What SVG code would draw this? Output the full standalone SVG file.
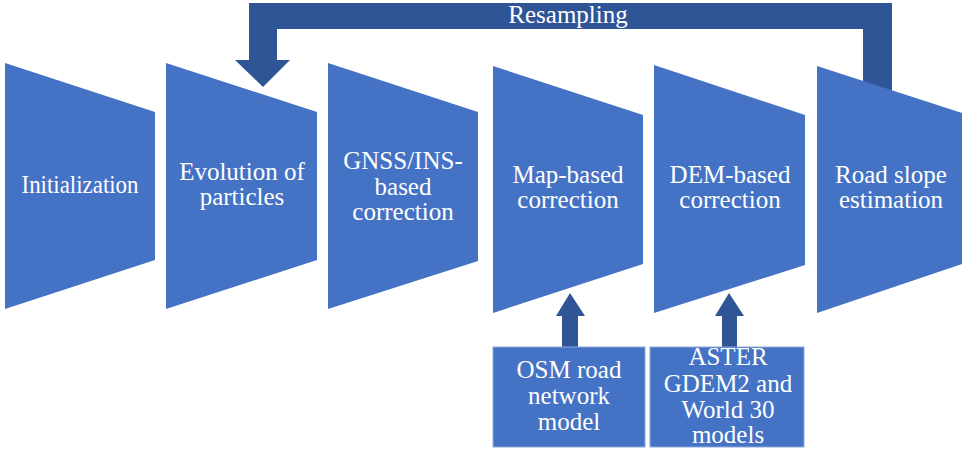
<svg xmlns="http://www.w3.org/2000/svg" width="962" height="450" viewBox="0 0 962 450">
<style>
.stage{fill:#4472C4;}
.dark{fill:#2F5597;}
.box{fill:#4472C4;stroke:#8FAADC;stroke-width:1;}
text{font-family:"Liberation Serif","Times New Roman",serif;font-size:25px;fill:#FFFFFF;text-anchor:middle;}
</style>
<rect width="962" height="450" fill="#FFFFFF"/>
<g id="connectors">
<path id="resampling" class="dark" d="M249,3 H892 V100 H863 V29 H277 V60 H290 L263,87 L235,60 H249 Z"/>
<text x="568" y="23">Resampling</text>
<path id="arrow-osm" class="dark" d="M562,347 V316 H556 L570,293 L585,316 H578 V347 Z"/>
<path id="arrow-aster" class="dark" d="M722,347 V316 H715 L729,293 L744,316 H737 V347 Z"/>
</g>
<g id="initialization">
<polygon class="stage" points="5,63 155,112 155,260 5,309"/>
<text x="80" y="193" textLength="117" lengthAdjust="spacingAndGlyphs">Initialization</text>
</g>
<g id="evolution">
<polygon class="stage" points="166,63 317,112 317,260 166,309"/>
<text x="242" y="180">Evolution of</text>
<text x="242" y="205">particles</text>
</g>
<g id="gnss">
<polygon class="stage" points="328,63 478,112 478,261 328,309"/>
<text x="403" y="169">GNSS/INS-</text>
<text x="403" y="195">based</text>
<text x="403" y="220">correction</text>
</g>
<g id="map">
<polygon class="stage" points="493,66 643,115 643,264 493,313"/>
<text x="568" y="183">Map-based</text>
<text x="568" y="208">correction</text>
</g>
<g id="dem">
<polygon class="stage" points="654,65 805,115 805,265 654,313"/>
<text x="730" y="183">DEM-based</text>
<text x="730" y="208">correction</text>
</g>
<g id="roadslope">
<polygon class="stage" points="817,66 962,113 962,264 817,313"/>
<text x="891" y="183">Road slope</text>
<text x="891" y="208">estimation</text>
</g>
<g id="osm">
<rect class="box" x="493" y="347" width="152" height="100"/>
<text x="569" y="378">OSM road</text>
<text x="569" y="404">network</text>
<text x="569" y="430">model</text>
</g>
<g id="aster">
<rect class="box" x="650" y="347" width="154" height="100"/>
<text x="728" y="365">ASTER</text>
<text x="728" y="392">GDEM2 and</text>
<text x="728" y="418">World 30</text>
<text x="728" y="443">models</text>
</g>
</svg>
